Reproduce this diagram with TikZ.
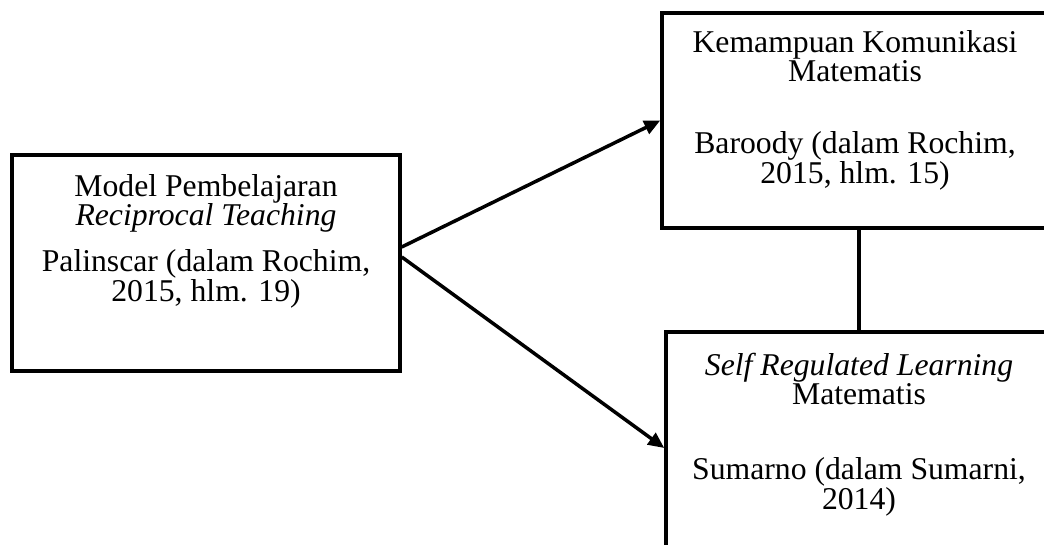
\documentclass[tikz,border=0pt]{standalone}
\usepackage{fontspec}
\setmainfont{Liberation Serif}
\usetikzlibrary{arrows.meta, positioning, calc}

\newcommand{\boxfont}{\fontsize{15.85pt}{14.75pt}\selectfont\lineskiplimit=-20pt\relax}

\begin{document}
\begin{tikzpicture}[x=0.5pt, y=0.5pt, >={Triangle[length=8pt, width=7pt]}, line width=1.75pt,
    box/.style={draw, rectangle, inner sep=0pt},
    txt/.style={align=center, anchor=base, inner sep=0pt, font=\boxfont}]

    \useasboundingbox (0,0) rectangle (1044,545);
    \clip (0,0) rectangle (1044,545);

    % -------------------------------------------------------------
    % Boxes
    % -------------------------------------------------------------
    \node[box, minimum width=194pt, minimum height=108pt] (model) at (206,282) {};
    \node[box, minimum width=193pt, minimum height=107.5pt] (komunikasi) at (855,424.5) {};
    \node[box, minimum width=193pt, minimum height=134pt] (srl) at (859,79) {};

    % -------------------------------------------------------------
    % Texts (base = last line)
    % -------------------------------------------------------------
    \node[txt] (modeltxt) at ([yshift=-74pt]model.north)
        {Model Pembelajaran\\ \textit{Reciprocal Teaching}\\[8.25pt]
         Palinscar (dalam Rochim,\\ 2015, hlm. 19)};
    \node[txt] (komunikasitxt) at ([yshift=-86pt]komunikasi.north)
        {Kemampuan Komunikasi\\ Matematis\\[21.25pt]
         Baroody (dalam Rochim,\\ 2015, hlm. 15)};
    \node[txt] (srltxt) at ([yshift=-89.5pt]srl.north)
        {\textit{Self Regulated Learning}\\ Matematis\\[22.75pt]
         Sumarno (dalam Sumarni,\\ 2014)};

    % -------------------------------------------------------------
    % Connectors
    % -------------------------------------------------------------
    \draw[->] ([yshift=8pt]model.east) -- (komunikasi.west);
    \draw[->] ([yshift=3pt]model.east) -- ([yshift=9pt]srl.west);
    \draw (srl.north) -- (srl.north |- komunikasi.south);

\end{tikzpicture}
\end{document}
